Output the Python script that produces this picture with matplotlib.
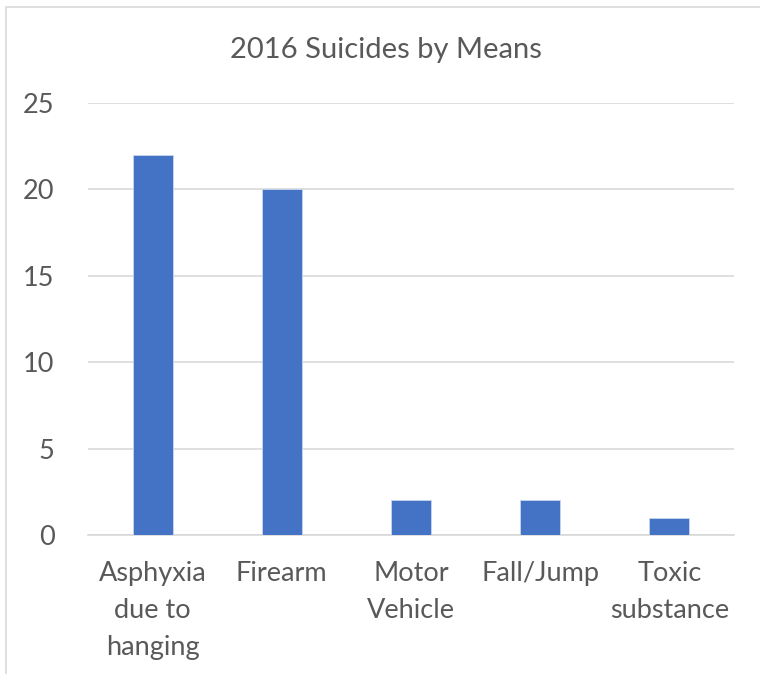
import matplotlib.pyplot as plt
import numpy as np
from matplotlib.patches import Rectangle

# Suicide counts by means, 2016
categories = ["Asphyxia\ndue to\nhanging", "Firearm", "Motor\nVehicle", "Fall/Jump", "Toxic\nsubstance"]
counts = [22, 20, 2, 2, 1]
yticks = [0, 5, 10, 15, 20, 25]

BAR_COLOR = "#4472C4"
TEXT_COLOR = "#595959"
GRID_COLOR = "#D9D9D9"

plt.rcParams.update({
    "font.family": ["Lato", "DejaVu Sans"],
    "font.size": 19.5,
})

fig = plt.figure(figsize=(7.6, 6.74), dpi=100)
ax = fig.add_axes([88 / 760, 1 - 535 / 674, (734 - 88) / 760, (535 - 103) / 674])

x = np.arange(len(categories))
ax.bar(x, counts, width=0.31, color=BAR_COLOR, edgecolor="#C9D6EE", linewidth=0.6, zorder=3)

ax.set_xlim(-0.5, len(categories) - 0.5)
ax.set_ylim(0, 25)
ax.set_yticks(yticks)
ax.set_axisbelow(True)
ax.grid(axis="y", color=GRID_COLOR, linewidth=1.2)
ax.grid(axis="x", visible=False)

for side in ["top", "right", "left"]:
    ax.spines[side].set_visible(False)
ax.spines["bottom"].set_color(GRID_COLOR)
ax.spines["bottom"].set_linewidth(1.2)

ax.set_xticks(x)
ax.set_xticklabels(categories, linespacing=1.6, va="top")
ax.tick_params(axis="both", length=0, colors=TEXT_COLOR, labelsize=19.5)
ax.tick_params(axis="x", pad=19)
ax.tick_params(axis="y", pad=24)

fig.text(386 / 760, 1 - 50 / 674, "2016 Suicides by Means", ha="center", va="center",
         fontsize=21, color=TEXT_COLOR)

# light chart-area frame
fig.patches.append(Rectangle((6 / 760, -0.1), 1.2, 1 - 7 / 674 + 0.1, transform=fig.transFigure,
                             fill=False, edgecolor=GRID_COLOR, linewidth=1.2))

fig.savefig("out.png", dpi=100)
